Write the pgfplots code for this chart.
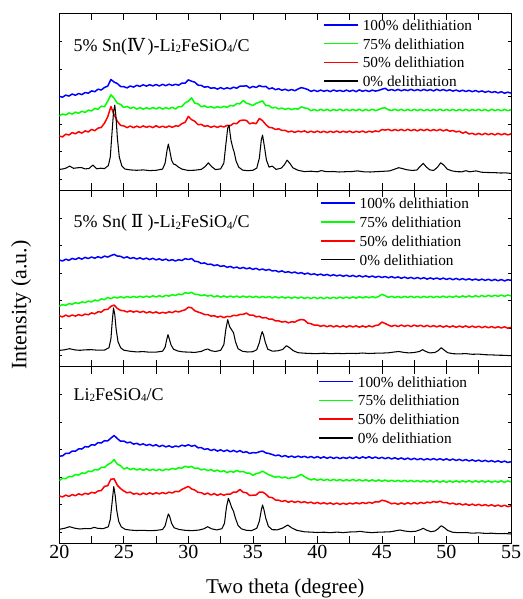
\documentclass[border=0pt]{standalone}
\usepackage{fontspec}
\setmainfont{Liberation Serif}
\newfontfamily\romfont{DejaVu Serif}
\usepackage{pgfplots}
\usepackage{pgfplotstable}
\pgfplotsset{compat=1.18}

\newcommand\sub[1]{\raisebox{-1.3pt}{\fontsize{11}{11}\selectfont #1}}
\newcommand\Rom[2][l]{\makebox[1.15em][#1]{\romfont #2}}

% Panel (a): 5% Sn(IV)-Li2FeSiO4/C -- offset traces (b = 100%, g = 75%, r = 50%)
\pgfplotstableread{
x b g r
20.00 93.8 74.2 54.0
20.25 92.9 76.1 53.2
20.50 95.0 75.1 55.9
20.75 94.0 77.2 55.1
21.00 96.1 76.0 57.5
21.25 94.8 78.0 56.3
21.50 96.6 76.8 58.4
21.75 95.5 78.9 57.0
22.00 97.6 77.6 59.2
22.25 96.9 80.0 58.2
22.50 99.2 79.1 60.7
22.75 98.4 81.7 59.4
23.00 100.9 80.8 62.0
23.25 100.1 83.9 62.6
23.50 102.6 83.4 66.9
23.75 104.0 88.9 73.2
24.00 110.6 95.3 83.5
24.25 108.0 91.8 75.3
24.50 106.5 86.8 68.8
24.75 103.6 85.7 64.7
25.00 103.4 82.6 64.2
25.25 102.2 83.7 62.5
25.50 104.1 81.8 64.1
25.75 103.0 82.9 62.4
26.00 104.8 81.0 64.0
26.25 103.7 82.6 62.6
26.50 105.3 80.9 64.2
26.75 104.0 82.3 62.8
27.00 105.4 81.1 63.9
27.25 104.2 82.5 62.5
27.50 105.6 81.2 64.4
27.75 104.1 82.8 62.7
28.00 105.8 81.0 63.9
28.25 104.4 82.4 62.6
28.50 105.9 81.3 64.1
28.75 104.7 82.9 62.8
29.00 105.8 81.1 64.2
29.25 104.9 83.5 64.0
29.50 107.0 83.6 66.5
29.75 106.9 87.2 67.8
30.00 110.2 88.9 73.7
30.25 108.9 92.2 70.4
30.50 107.9 86.9 68.8
30.75 104.9 86.2 65.4
31.00 104.7 83.4 65.7
31.25 102.9 84.3 63.9
31.50 103.5 82.6 64.3
31.75 101.8 83.5 62.8
32.00 102.4 82.1 64.0
32.25 101.0 83.4 62.7
32.50 102.5 82.4 64.1
32.75 101.1 83.8 63.1
33.00 102.3 82.7 64.7
33.25 101.3 84.7 64.4
33.50 102.9 84.1 66.7
33.75 101.9 86.5 66.5
34.00 104.0 86.3 69.5
34.25 103.9 89.7 70.1
34.50 104.4 86.9 69.7
34.75 102.1 86.0 66.3
35.00 103.7 84.6 67.2
35.25 102.6 86.7 66.4
35.50 104.5 87.9 71.6
35.75 103.4 89.2 69.4
36.00 103.7 84.4 65.6
36.25 101.2 84.5 62.7
36.50 102.2 82.1 62.3
36.75 100.4 82.8 60.6
37.00 101.4 81.1 61.3
37.25 99.8 82.0 59.6
37.50 100.9 80.7 59.8
37.75 99.5 81.8 58.1
38.00 100.6 80.5 59.0
38.25 99.4 81.6 57.7
38.50 101.1 81.0 59.0
38.75 102.5 83.2 58.2
39.00 101.7 82.2 59.2
39.25 100.6 81.6 57.6
39.50 98.7 79.4 58.9
39.75 99.9 80.6 57.7
40.00 98.6 79.3 59.0
40.25 100.0 80.8 57.6
40.50 98.8 79.5 58.9
40.75 99.8 80.7 57.5
41.00 98.5 79.2 58.8
41.25 100.1 80.6 57.7
41.50 98.9 79.6 59.1
41.75 99.7 80.9 57.6
42.00 98.6 79.3 58.9
42.25 100.0 80.7 57.8
42.50 98.7 79.4 59.0
42.75 99.9 80.6 57.5
43.00 98.5 79.5 58.8
43.25 100.2 80.8 57.9
43.50 98.8 79.2 59.1
43.75 99.8 80.7 57.6
44.00 98.6 79.4 58.9
44.25 100.0 80.9 58.0
44.50 99.0 79.5 59.2
44.75 99.7 80.5 58.4
45.00 100.9 81.9 60.6
45.25 101.8 82.3 60.0
45.50 99.6 80.3 60.7
45.75 100.6 79.6 59.3
46.00 99.4 80.8 60.6
46.25 100.7 79.5 59.4
46.50 99.3 80.7 60.7
46.75 100.5 79.4 59.3
47.00 99.5 80.6 60.8
47.25 100.8 79.3 59.4
47.50 99.4 80.8 60.6
47.75 100.6 79.5 59.2
48.00 99.3 80.7 60.7
48.25 100.7 79.4 59.5
48.50 99.5 80.6 60.8
48.75 100.5 79.3 59.3
49.00 99.2 80.7 60.5
49.25 100.8 79.5 59.4
49.50 99.4 80.8 60.7
49.75 100.6 79.4 59.2
50.00 99.3 80.6 60.4
50.25 100.3 79.5 58.9
50.50 99.0 80.7 59.6
50.75 100.1 79.3 58.2
51.00 98.7 80.6 58.9
51.25 99.9 79.4 56.9
51.50 98.6 80.8 58.2
51.75 99.7 79.3 56.1
52.00 98.4 80.5 56.8
52.25 99.6 79.6 55.4
52.50 98.2 80.7 56.7
52.75 99.2 79.4 55.3
53.00 97.8 80.6 56.8
53.25 98.9 79.2 55.4
53.50 97.6 80.8 56.6
53.75 98.5 79.5 55.2
54.00 97.2 80.6 56.7
54.25 98.4 79.3 55.3
54.50 96.9 80.7 56.5
54.75 97.9 79.4 55.2
55.00 97.0 80.4 56.3
}\tabA

% Panel (b): 5% Sn(II)-Li2FeSiO4/C
\pgfplotstableread{
x b g r
20.00 106.8 60.6 50.9
20.25 105.7 62.0 49.8
20.50 107.5 61.4 51.6
20.75 106.4 63.1 50.2
21.00 108.3 62.4 51.7
21.25 107.2 64.0 50.6
21.50 108.9 63.2 52.1
21.75 107.6 64.8 51.0
22.00 109.3 64.1 52.6
22.25 108.2 65.6 51.9
22.50 109.7 64.8 53.8
22.75 108.5 66.7 52.9
23.00 110.0 65.8 54.9
23.25 108.8 67.8 54.6
23.50 110.6 67.0 57.1
23.75 109.6 69.3 57.3
24.00 111.1 68.1 60.4
24.25 112.3 69.6 61.6
24.50 110.6 68.7 58.2
24.75 110.4 70.0 56.3
25.00 108.7 68.8 56.0
25.25 109.9 70.2 54.7
25.50 108.2 69.1 55.9
25.75 109.1 70.3 54.6
26.00 107.7 69.2 55.7
26.25 108.9 70.5 54.3
26.50 107.4 69.4 55.4
26.75 108.6 70.6 53.8
27.00 107.1 69.5 55.0
27.25 108.4 70.9 53.7
27.50 106.8 69.7 54.8
27.75 107.9 71.0 53.3
28.00 106.4 69.8 54.4
28.25 107.7 71.3 53.6
28.50 106.0 70.6 54.9
28.75 107.1 72.0 54.1
29.00 105.7 71.2 55.6
29.25 107.0 72.7 54.7
29.50 106.2 72.0 56.0
29.75 108.1 74.1 56.9
30.00 107.2 73.3 59.5
30.25 108.2 74.3 58.9
30.50 105.4 72.5 55.9
30.75 105.1 72.2 54.7
31.00 103.2 71.1 53.6
31.25 103.8 71.8 52.2
31.50 102.2 70.6 52.2
31.75 102.6 71.4 50.6
32.00 101.1 69.8 51.0
32.25 101.9 70.9 49.6
32.50 100.3 69.6 50.5
32.75 101.0 70.8 49.1
33.00 99.4 69.4 50.3
33.25 100.3 70.7 50.0
33.50 98.8 69.5 51.4
33.75 99.6 70.6 51.0
34.00 98.2 69.3 52.3
34.25 99.3 70.7 52.4
34.50 97.9 69.4 53.6
34.75 98.8 70.5 51.6
35.00 97.3 69.2 51.7
35.25 98.4 70.4 49.9
35.50 96.8 69.0 50.4
35.75 97.7 70.3 48.7
36.00 96.4 69.1 49.2
36.25 97.3 70.2 47.6
36.50 95.7 68.8 47.7
36.75 96.2 70.0 45.8
37.00 94.8 68.7 45.9
37.25 95.8 69.9 44.6
37.50 94.3 68.6 45.3
37.75 95.0 69.7 43.9
38.00 93.8 68.4 44.9
38.25 94.7 69.7 44.6
38.50 93.2 68.5 46.4
38.75 94.1 69.6 47.2
39.00 92.6 68.3 46.6
39.25 93.6 69.4 43.6
39.50 92.1 68.2 43.0
39.75 92.9 69.5 41.6
40.00 91.6 68.1 41.7
40.25 92.6 69.3 40.4
40.50 91.3 68.0 41.3
40.75 92.3 69.4 40.0
41.00 90.9 68.2 41.2
41.25 92.0 69.5 39.8
41.50 90.8 68.3 41.0
41.75 91.7 69.6 39.7
42.00 90.4 68.4 40.9
42.25 91.5 69.7 39.6
42.50 90.2 68.5 41.0
42.75 91.3 69.8 39.7
43.00 89.9 68.6 40.9
43.25 91.1 69.9 39.5
43.50 89.8 68.8 40.8
43.75 90.9 70.0 39.6
44.00 89.6 68.9 40.9
44.25 90.7 70.1 39.9
44.50 89.4 69.0 41.2
44.75 90.4 70.3 41.8
45.00 89.2 72.4 44.6
45.25 90.2 71.0 43.2
45.50 88.9 69.3 41.6
45.75 90.1 70.4 40.3
46.00 88.8 69.1 41.5
46.25 89.8 70.3 40.2
46.50 88.4 69.0 41.6
46.75 89.6 70.4 40.3
47.00 88.3 69.2 41.5
47.25 89.3 70.5 40.1
47.50 88.0 69.1 41.6
47.75 89.2 70.3 40.4
48.00 87.9 69.0 41.4
48.25 89.0 70.4 40.0
48.50 87.6 69.2 41.3
48.75 88.8 70.5 39.9
49.00 87.6 69.1 41.1
49.25 88.7 70.4 39.8
49.50 87.4 69.3 41.0
49.75 88.6 70.6 39.6
50.00 87.3 69.2 40.9
50.25 88.4 70.5 39.6
50.50 87.0 69.4 40.8
50.75 88.3 70.7 39.4
51.00 86.9 69.4 40.7
51.25 88.1 70.8 39.5
51.50 86.8 69.6 40.8
51.75 87.9 70.9 39.3
52.00 86.6 69.7 40.6
52.25 87.7 71.0 39.3
52.50 86.4 69.9 40.5
52.75 87.6 71.2 39.0
53.00 86.3 70.0 40.3
53.25 87.4 71.3 38.9
53.50 86.1 70.2 40.2
53.75 87.3 71.5 38.8
54.00 86.0 70.3 40.0
54.25 87.2 71.6 38.7
54.50 85.8 70.4 39.9
54.75 87.0 71.7 38.5
55.00 86.4 70.9 39.4
}\tabB

% Panel (c): Li2FeSiO4/C
\pgfplotstableread{
x b g r
20.00 87.2 62.6 47.3
20.25 87.4 65.0 46.4
20.50 90.0 64.6 48.2
20.75 89.9 66.9 46.9
21.00 92.3 66.7 48.7
21.25 92.1 68.8 47.6
21.50 94.4 68.2 49.5
21.75 94.3 70.4 48.3
22.00 96.7 69.9 50.0
22.25 96.3 72.2 49.1
22.50 98.6 71.6 51.0
22.75 98.2 73.8 50.2
23.00 100.7 73.3 52.3
23.25 100.3 75.9 52.8
23.50 102.6 75.8 56.9
23.75 102.4 78.7 57.6
24.00 105.2 80.3 64.2
24.25 107.8 83.7 64.4
24.50 104.7 79.1 57.9
24.75 102.0 77.6 54.7
25.00 102.3 74.3 52.3
25.25 100.5 75.6 50.5
25.50 101.2 73.7 51.2
25.75 99.2 75.0 49.2
26.00 100.0 73.3 50.0
26.25 98.4 74.6 48.6
26.50 99.5 73.0 50.2
26.75 97.8 74.4 48.9
27.00 99.0 72.8 50.5
27.25 97.4 74.1 49.1
27.50 98.6 72.7 50.6
27.75 96.7 74.0 49.4
28.00 98.0 72.6 50.8
28.25 96.4 74.2 49.6
28.50 97.5 73.4 51.2
28.75 96.0 75.0 50.3
29.00 97.3 74.0 52.0
29.25 96.5 75.6 51.6
29.50 98.1 75.1 53.9
29.75 97.2 77.1 55.4
30.00 98.6 76.0 56.9
30.25 97.0 76.9 54.4
30.50 98.0 74.9 53.3
30.75 95.5 75.3 50.9
31.00 95.7 73.4 50.7
31.25 93.9 74.3 48.9
31.50 94.6 72.7 50.2
31.75 92.8 73.7 48.3
32.00 94.0 72.0 49.7
32.25 92.2 73.2 48.0
32.50 93.5 71.5 49.4
32.75 91.9 72.6 48.1
33.00 93.3 70.7 49.3
33.25 91.5 72.0 49.1
33.50 92.9 71.1 51.3
33.75 91.3 72.8 51.3
34.00 92.7 71.5 53.9
34.25 90.8 71.8 51.0
34.50 91.6 70.2 50.6
34.75 89.8 70.1 47.8
35.00 90.7 68.0 48.1
35.25 90.4 69.7 48.3
35.50 91.5 70.4 51.2
35.75 92.3 72.1 51.3
36.00 90.4 70.3 49.2
36.25 89.8 68.5 46.1
36.50 88.8 67.2 45.7
36.75 87.6 66.0 43.3
37.00 88.3 66.9 43.1
37.25 86.6 65.4 41.8
37.50 87.8 66.3 42.8
37.75 86.2 64.8 41.0
38.00 87.3 65.7 42.3
38.25 85.9 65.6 40.9
38.50 87.2 67.3 42.1
38.75 86.0 68.9 40.7
39.00 87.0 66.6 41.6
39.25 85.6 64.8 40.3
39.50 86.8 63.4 41.2
39.75 85.4 64.5 39.7
40.00 86.7 63.0 40.9
40.25 85.2 64.2 39.5
40.50 86.5 62.8 40.6
40.75 85.0 64.0 39.3
41.00 86.3 62.6 40.4
41.25 84.9 63.9 39.0
41.50 86.1 62.7 40.3
41.75 84.7 63.8 38.9
42.00 85.9 62.4 40.1
42.25 84.9 63.7 39.0
42.50 86.2 62.5 40.3
42.75 84.8 63.9 39.3
43.00 86.4 62.4 40.6
43.25 84.9 63.7 39.5
43.50 86.5 62.3 40.8
43.75 85.2 63.6 39.8
44.00 86.6 62.2 41.0
44.25 85.0 63.5 40.1
44.50 86.3 62.1 41.6
44.75 84.8 63.4 41.3
45.00 86.0 62.0 43.1
45.25 84.6 63.3 42.4
45.50 85.8 61.9 41.1
45.75 84.3 63.1 39.5
46.00 85.6 61.8 40.2
46.25 84.1 63.0 39.0
46.50 85.4 61.7 40.4
46.75 83.9 63.0 39.1
47.00 85.2 61.6 40.6
47.25 83.7 62.9 39.3
47.50 85.0 61.5 40.7
47.75 83.6 62.8 39.4
48.00 84.8 61.4 40.9
48.25 83.4 62.7 39.8
48.50 84.6 61.3 41.2
48.75 83.5 62.6 40.5
49.00 84.7 61.2 41.8
49.25 83.4 62.6 41.0
49.50 84.6 61.1 42.1
49.75 83.2 62.5 40.6
50.00 84.5 61.0 40.8
50.25 83.0 62.4 39.4
50.50 84.3 61.1 40.2
50.75 82.8 62.5 38.9
51.00 84.0 61.2 39.7
51.25 82.6 62.5 38.4
51.50 83.8 61.2 39.4
51.75 82.3 62.6 38.0
52.00 83.5 61.1 39.2
52.25 82.1 62.5 37.8
52.50 83.2 61.2 39.0
52.75 81.8 62.6 37.6
53.00 83.0 61.1 38.7
53.25 81.6 62.4 37.4
53.50 82.7 61.0 38.5
53.75 81.3 62.3 37.1
54.00 82.5 61.1 38.3
54.25 81.1 62.5 36.9
54.50 82.2 61.0 38.1
54.75 80.8 62.4 36.7
55.00 81.6 61.5 37.5
}\tabC

% short legend samples: a single straight stroke, then a small gap before the text
\pgfplotsset{
  legend image code/.code={\draw[#1, line width=1.6pt] (0pt,0pt) -- (34pt,0pt); \path (38pt,0pt);},
}

\pgfplotsset{
  panel/.style={
    width=451.7pt, height=176.6pt, scale only axis,
    xmin=20, xmax=55, ymin=0, ymax=176.6,
    xtick={20,25,...,55}, minor xtick={22.5,27.5,...,52.5},
    ytick={11,38.5,66,93.5,121,148.5},
    yticklabels={}, xticklabels={},
    tick align=inside, major tick length=7pt, minor tick length=7pt,
    ytick style={/pgfplots/major tick length=3pt},
    axis line style={line width=0.9pt},
    every tick/.append style={black, line width=0.7pt},
    legend cell align=left,
    legend style={draw=none, fill=none, anchor=north west, inner sep=0pt,
      row sep=7.8pt, column sep=0pt,
      nodes={inner sep=0pt, text height=11pt, text depth=0pt,
             font=\fontsize{15.3}{16}\selectfont}},
  },
  xrd/.style={line width=1.5pt, line join=round},
  xrd0/.style={black, line width=1.05pt, line join=round},
}

\begin{document}
\begin{tikzpicture}
\useasboundingbox (0pt,0pt) rectangle (522pt,-599pt);

% top panel
\begin{axis}[panel, at={(59.3pt,-13.5pt)}, anchor=north west,
  legend style={at={(0.584,0.968)}}]
  \addplot[blue, xrd]  table[x=x, y=b] {\tabA};
  \addplot[green, xrd] table[x=x, y=g] {\tabA};
  \addplot[red, xrd]   table[x=x, y=r] {\tabA};
  \addplot[xrd0] coordinates {(20,20.7)(20.3,21.2)(20.5,21.9)(20.8,24)(21.1,21.8)(21.4,22.3)(21.7,22.6)(22,21.2)(22.3,21.6)(22.6,25)(22.9,21.3)(23.2,21.9)(23.5,21.5)(23.8,24.5)(23.95,33)(24.1,60)(24.2,78)(24.3,85)(24.4,72)(24.5,52)(24.65,33)(24.85,24)(25.1,21)(25.5,20.2)(26,19.8)(26.5,20.2)(27,19.5)(27.5,19.8)(28,21)(28.2,27)(28.35,40)(28.45,46)(28.55,40)(28.7,30)(28.85,26)(29,25.5)(29.2,23.3)(29.5,21)(30,19.6)(30.5,19.9)(31,20.7)(31.3,23.5)(31.55,27.3)(31.8,23.5)(32.1,20.5)(32.5,21.2)(32.75,27)(32.9,45)(33.05,62)(33.15,65)(33.3,50)(33.45,42)(33.55,38)(33.7,29)(33.9,23)(34.2,20)(34.6,19.4)(35,19.8)(35.3,22)(35.5,32)(35.65,50)(35.75,55)(35.9,43)(36.05,30)(36.25,23)(36.5,24)(36.8,20.7)(37.2,22)(37.45,25.5)(37.65,30)(37.85,27)(38.1,22.3)(38.5,19.8)(39,18.5)(39.5,18.9)(40,18.3)(40.3,19.5)(40.7,18.4)(41.2,18.6)(41.7,18.1)(42.2,18.4)(42.7,18.6)(43.1,19.2)(43.6,18.3)(44.1,18.1)(44.6,18.5)(45.1,18.8)(45.6,19.2)(46,21)(46.3,22.4)(46.6,21.5)(46.9,20.4)(47.3,19.7)(47.7,20)(47.95,23.5)(48.2,26.7)(48.45,23)(48.7,20.3)(49,19.6)(49.3,22.8)(49.55,27.3)(49.8,25)(50.05,21)(50.4,19.3)(50.8,18.4)(51.2,18.3)(51.5,19.4)(51.8,18.3)(52.3,19.2)(52.7,17.9)(53.2,17.6)(53.7,17.5)(54.2,17.1)(54.6,17.2)(55,16.7)};
  \addlegendentry{100\% delithiation}
  \addlegendentry{75\% delithiation}
  \addlegendentry{50\% delithiation}
  \addlegendentry{0\% delithiation}
  \node[anchor=west, inner sep=0pt, font=\fontsize{18}{20}\selectfont]
    at (rel axis cs:0.031,0.812) {5\% Sn(\Rom{Ⅳ})-Li\sub{2}FeSiO\sub{4}/C};
\end{axis}

% middle panel
\begin{axis}[panel, at={(59.3pt,-190.1pt)}, anchor=north west,
  legend style={at={(0.577,0.958)}}]
  \addplot[blue, xrd]  table[x=x, y=b] {\tabB};
  \addplot[green, xrd] table[x=x, y=g] {\tabB};
  \addplot[red, xrd]   table[x=x, y=r] {\tabB};
  \addplot[xrd0] coordinates {(20,16.3)(20.4,16.9)(20.8,18)(21.2,16.8)(21.6,16.4)(22,16.9)(22.5,17)(23,16.5)(23.5,16.6)(23.85,19)(24,28)(24.1,45)(24.2,58.7)(24.3,52)(24.4,38)(24.55,25)(24.75,19)(25,16.5)(25.5,15.4)(26,14.8)(26.5,15.1)(27,14.5)(27.5,14.6)(28,15.5)(28.2,19.5)(28.32,27)(28.42,32)(28.52,28)(28.65,22)(28.85,17.5)(29.2,15.6)(29.6,14.8)(30,14.6)(30.5,14.3)(31,15.3)(31.25,16.8)(31.5,17.7)(31.75,16)(32.1,15.2)(32.5,16.4)(32.75,22)(32.9,37)(33.05,47)(33.2,40)(33.35,37)(33.5,34)(33.65,25)(33.85,18)(34.2,15.4)(34.6,14.7)(35,15)(35.3,17)(35.5,24)(35.62,31)(35.72,35)(35.82,32)(35.95,25)(36.15,17.5)(36.5,15.6)(36.9,15.8)(37.3,17.2)(37.6,21)(37.85,19)(38.1,16.2)(38.5,14)(39,13.5)(39.5,13.2)(40,13.1)(40.5,13.5)(41,13)(41.5,13.3)(42,13.1)(42.5,13.4)(43,13.2)(43.5,13.7)(44,13.2)(44.5,13.5)(45,13.6)(45.5,13.9)(45.9,14.6)(46.3,15.2)(46.7,14.3)(47.1,13.8)(47.5,14.2)(47.9,15.2)(48.15,17)(48.4,15.2)(48.7,13.8)(49.1,14.2)(49.35,16)(49.6,19)(49.85,16.3)(50.1,14)(50.5,13)(51,12.8)(51.5,13.1)(52,12.4)(52.5,12.6)(53,12)(53.5,11.8)(54,11.5)(54.5,11.4)(55,11)};
  \addlegendentry{100\% delithiation}
  \addlegendentry{75\% delithiation}
  \addlegendentry{50\% delithiation}
  \addlegendentry{0\% delithiation}
  \node[anchor=west, inner sep=0pt, font=\fontsize{18}{20}\selectfont]
    at (rel axis cs:0.031,0.812) {5\% Sn(\Rom[c]{Ⅱ})-Li\sub{2}FeSiO\sub{4}/C};
\end{axis}

% bottom panel
\begin{axis}[panel, at={(59.3pt,-366.7pt)}, anchor=north west,
  xticklabels={20,25,30,35,40,45,50,55},
  xticklabel style={inner sep=0pt, anchor=north, yshift=-2pt,
                    font=\fontsize{20}{22}\selectfont},
  legend style={at={(0.573,0.948)}}]
  \addplot[blue, xrd]  table[x=x, y=b] {\tabC};
  \addplot[green, xrd] table[x=x, y=g] {\tabC};
  \addplot[red, xrd]   table[x=x, y=r] {\tabC};
  \addplot[xrd0] coordinates {(20,14)(20.4,15)(20.8,16.6)(21.2,15.1)(21.6,14.3)(22,14.8)(22.4,14.6)(22.7,16)(23,14.9)(23.4,14.7)(23.8,16.5)(23.95,24)(24.1,42)(24.22,56.6)(24.33,48)(24.45,33)(24.6,22)(24.8,16.5)(25.1,14)(25.5,13.2)(26,12.8)(26.5,13)(27,12.6)(27.5,12.9)(28,13.8)(28.2,17.5)(28.35,25)(28.45,29.3)(28.55,27)(28.7,20)(28.9,15.5)(29.3,13.8)(29.8,12.9)(30.3,12.7)(30.8,13.2)(31.2,14.5)(31.5,16.6)(31.8,14.5)(32.2,13.4)(32.6,14.6)(32.8,20)(32.95,36)(33.1,45)(33.22,41)(33.35,36)(33.5,32)(33.65,25)(33.85,18)(34.1,14.5)(34.5,13)(34.9,12.7)(35.3,15)(35.5,22)(35.65,33)(35.75,38.3)(35.85,34)(36,25)(36.2,17)(36.5,13.6)(36.9,13.5)(37.3,15.2)(37.7,18.3)(38,15.5)(38.4,13)(39,11.5)(39.5,11.2)(40,10.8)(40.5,11.1)(41,10.6)(41.5,11.2)(42,10.7)(42.5,11.3)(43,11.5)(43.3,12)(43.7,11.2)(44.2,10.7)(44.7,11.1)(45.2,11.3)(45.7,11.6)(46.1,12.6)(46.4,13.3)(46.8,12.2)(47.2,11.7)(47.6,12)(47.95,13.5)(48.2,15)(48.45,13.2)(48.8,11.6)(49.1,12.3)(49.35,14.5)(49.6,17.6)(49.85,15.5)(50.1,12.8)(50.5,11)(51,10.6)(51.5,10.8)(52,10.1)(52.5,10.5)(53,9.9)(53.5,10.1)(54,9.6)(54.5,9.8)(55,9.3)};
  \addlegendentry{100\% delithiation}
  \addlegendentry{75\% delithiation}
  \addlegendentry{50\% delithiation}
  \addlegendentry{0\% delithiation}
  \node[anchor=west, inner sep=0pt, font=\fontsize{18}{20}\selectfont]
    at (rel axis cs:0.031,0.841) {Li\sub{2}FeSiO\sub{4}/C};
\end{axis}

\node[rotate=90, font=\fontsize{22}{24}\selectfont, inner sep=0pt]
  at (21pt,-305pt) {Intensity (a.u.)};
\node[anchor=base, font=\fontsize{21}{24}\selectfont, inner sep=0pt]
  at (285.2pt,-593pt) {Two theta (degree)};
\end{tikzpicture}
\end{document}
